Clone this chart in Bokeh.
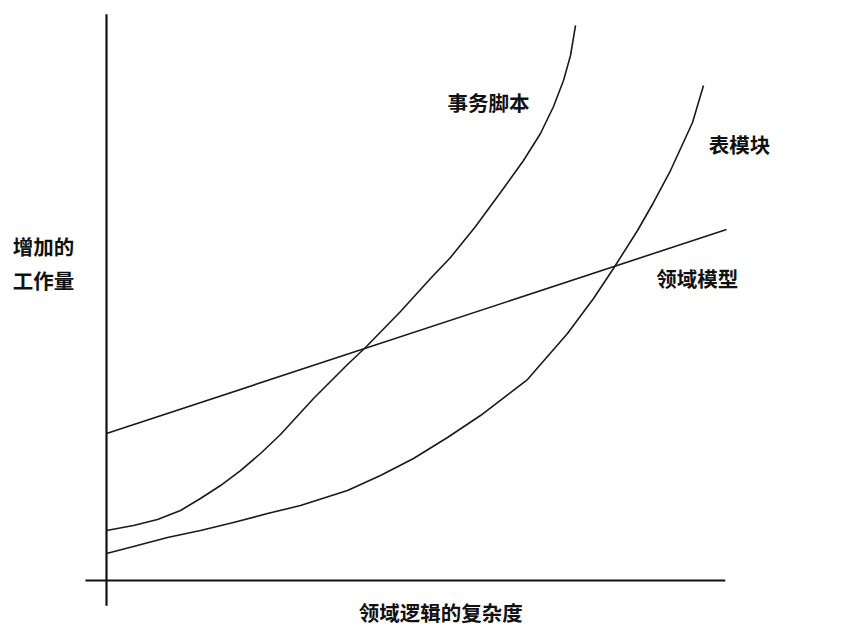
from bokeh.plotting import figure
from bokeh.models import Range1d, Label
from bokeh.embed import file_html
from bokeh.resources import INLINE

# complexity of domain logic (x) vs. effort to enhance (y), conceptual units
ts_x = [0, 4.35, 8.23, 11.94, 15.16, 18.39, 21.61, 24.84, 28.06, 33.39, 38.87, 41.77, 47.42,
        52.26, 55.48, 59.52, 63.55, 67.26, 70.0, 72.1, 73.71, 74.84, 75.65]
ts_y = [8.93, 9.82, 10.89, 12.5, 14.64, 16.96, 19.64, 22.68, 26.07, 32.5, 38.57, 41.61, 48.04,
        53.93, 57.68, 63.21, 69.29, 75.0, 79.82, 84.64, 89.29, 93.75, 99.11]

tm_x = [0, 4.35, 9.84, 15.16, 20.48, 25.97, 31.29, 38.87, 44.19, 49.52, 55.0, 60.32, 67.9,
        74.35, 78.55, 81.77, 85.65, 88.23, 90.97, 94.52, 96.29]
tm_y = [4.82, 6.07, 7.68, 8.93, 10.36, 11.96, 13.39, 16.07, 18.75, 21.79, 25.54, 29.46, 35.89,
        44.11, 50.36, 55.71, 62.5, 67.5, 73.21, 81.79, 88.39]

dm_x = [0, 100]
dm_y = [26.25, 62.68]

series_names = ["事务脚本", "表模块", "领域模型"]
y_title = ["增加的", "工作量"]
x_title = "领域逻辑的复杂度"

FONT = "Noto Sans CJK SC"

p = figure(width=841, height=626, output_backend="svg", toolbar_location=None,
           x_range=Range1d(-17.097, 118.548), y_range=Range1d(-8.214, 103.571),
           min_border=0, min_border_left=0, min_border_right=0,
           min_border_top=0, min_border_bottom=0)
p.axis.visible = False
p.xgrid.visible = False
p.ygrid.visible = False
p.outline_line_color = None
p.background_fill_color = "white"
p.border_fill_color = "white"

# axes drawn as lines
p.line([0, 0], [-4.5, 101.1], line_color="#111111", line_width=2.2)
p.line([-3.4, 99.8], [0, 0], line_color="#111111", line_width=1.8)

p.line(ts_x, ts_y, line_color="#1a1a1a", line_width=1.6, line_join="round")
p.line(tm_x, tm_y, line_color="#1a1a1a", line_width=1.6, line_join="round")
p.line(dm_x, dm_y, line_color="#1a1a1a", line_width=1.6)

def lab(x, y, t):
    p.add_layout(Label(x=x, y=y, text=t, text_font=FONT, text_font_size="20.5px",
                       text_font_style="bold", text_color="#111111",
                       text_align="center", text_baseline="middle"))

lab(61.6, 85.4, series_names[0])
lab(102.1, 78.0, series_names[1])
lab(95.3, 54.1, series_names[2])
lab(-10.16, 59.8, y_title[0])
lab(-10.16, 53.6, y_title[1])
lab(53.9, -5.7, x_title)

open("out.html", "w").write(file_html(p, INLINE))
